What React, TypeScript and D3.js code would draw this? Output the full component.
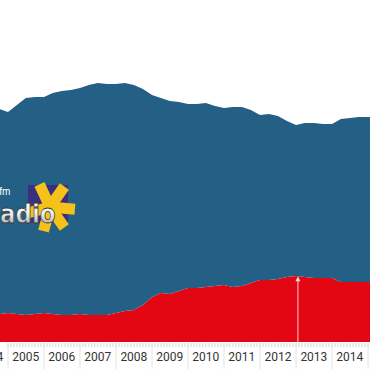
import * as d3 from "d3";

const width = 370;
const height = 370;

// quarterly samples
const dates = [
  "2004-07-01", "2004-10-01",
  "2005-01-01", "2005-04-01", "2005-07-01", "2005-10-01",
  "2006-01-01", "2006-04-01", "2006-07-01", "2006-10-01",
  "2007-01-01", "2007-04-01", "2007-07-01", "2007-10-01",
  "2008-01-01", "2008-04-01", "2008-07-01", "2008-10-01",
  "2009-01-01", "2009-04-01", "2009-07-01", "2009-10-01",
  "2010-01-01", "2010-04-01", "2010-07-01", "2010-10-01",
  "2011-01-01", "2011-04-01", "2011-07-01", "2011-10-01",
  "2012-01-01", "2012-04-01", "2012-07-01", "2012-10-01",
  "2013-01-01", "2013-04-01", "2013-07-01", "2013-10-01",
  "2014-01-01", "2014-04-01", "2014-07-01", "2014-10-01",
  "2015-01-01", "2015-04-01",
];

const totals = [
  232, 233, 230, 237, 244, 245, 245, 249, 251, 252, 254, 257, 259, 258,
  258, 259, 257, 253, 247, 244, 241, 240, 238, 238, 239, 236, 234, 235,
  235, 232, 227, 228, 226, 221, 217, 219, 219, 218, 218, 223, 224, 225,
  225, 225,
];

const redValues = [
  28, 28, 29, 28, 27, 28, 29, 28, 27, 27, 28, 27, 27, 27, 29, 31, 32, 37,
  45, 49, 48, 51, 54, 54, 55, 56, 57, 55, 56, 59, 62, 62, 63, 65, 66, 65,
  64, 64, 64, 60, 60, 60, 60, 60,
];

const years = [2004, 2005, 2006, 2007, 2008, 2009, 2010, 2011, 2012, 2013, 2014, 2015];
const markerDate = "2013-01-20";

const blue = "#245f86";
const red = "#e30613";

export default function App() {
  const parse = d3.timeParse("%Y-%m-%d");

  const rows = dates.map((d, i) => ({
    date: parse(d)!,
    red: redValues[i],
    blue: totals[i] - redValues[i],
  }));

  const x = d3
    .scaleTime()
    .domain([new Date(2005, 0, 1), new Date(2015, 0, 1)])
    .range([8, 368]);
  const y = d3.scaleLinear().domain([0, 300]).range([342, 42]);

  const series = d3.stack<any>().keys(["red", "blue"])(rows);
  const area = d3
    .area<any>()
    .x((d) => x(d.data.date))
    .y0((d) => y(d[0]))
    .y1((d) => y(d[1]));

  const months = x.ticks(d3.timeMonth.every(1)!);
  const yearStarts = years.map((yr) => new Date(yr, 0, 1));

  const mDate = parse(markerDate)!;
  const mx = x(mDate);
  const redAt = d3.scaleTime().domain(rows.map((r) => r.date)).range(rows.map((r) => r.red));
  const my = y(redAt(mDate));

  const rays = [-115, -55, 5, 55, 105, 165];

  return (
    <svg
      width={width}
      height={height}
      style={{ position: "absolute", left: 0, top: 0, background: "#fff" }}
    >
      <defs>
        <linearGradient id="silver" x1="0" y1="0" x2="0" y2="1">
          <stop offset="0" stopColor="#ffffff" />
          <stop offset="0.5" stopColor="#eeeeee" />
          <stop offset="1" stopColor="#8e8e8e" />
        </linearGradient>
      </defs>
      {series.map((s, i) => (
        <path key={s.key} d={area(s) || ""} fill={i === 0 ? red : blue} />
      ))}

      {/* annotation marker */}
      <line x1={mx} x2={mx} y1={my + 4} y2={342} stroke="#f6d0d0" strokeWidth={1} />
      <path d={`M${mx},${my} l-2.5,5 h5 z`} fill="#f6d0d0" />

      {/* logo */}
      <g>
        <rect x={28} y={185} width={40} height={38} fill="#3b2f7e" />
        {rays.map((a) => {
          const r = (a * Math.PI) / 180;
          return (
            <line
              key={a}
              x1={50}
              y1={207}
              x2={50 + Math.cos(r) * 25}
              y2={207 + Math.sin(r) * 25}
              stroke="#f5c21b"
              strokeWidth={11}
            />
          );
        })}
        <circle cx={50} cy={207} r={8} fill="#f5c21b" />
        <text x={-19} y={195} fill="#fff" fontFamily="Arial, sans-serif" fontSize={10}>
          last.fm
        </text>
        <text
          x={-13.3}
          y={223}
          transform="scale(0.85,1)"
          fill="url(#silver)"
          stroke="#3a3a3a"
          strokeWidth={0.8}
          fontFamily="'DejaVu Sans', sans-serif"
          fontWeight="bold"
          fontSize={27}
        >
          radio
        </text>
      </g>

      {/* axis */}
      <g>
        {months.map((m, i) => (
          <line key={i} x1={x(m)} x2={x(m)} y1={343} y2={347} stroke="#d4d4d4" />
        ))}
        {yearStarts.map((d, i) => (
          <line key={i} x1={x(d)} x2={x(d)} y1={343} y2={369} stroke="#e2e2e2" />
        ))}
        {years.map((yr) => (
          <text
            key={yr}
            x={x(new Date(yr, 6, 1))}
            y={361}
            textAnchor="middle"
            fontFamily="Roboto, sans-serif"
            fontSize={12}
            fill="#333"
          >
            {yr}
          </text>
        ))}
      </g>
    </svg>
  );
}
